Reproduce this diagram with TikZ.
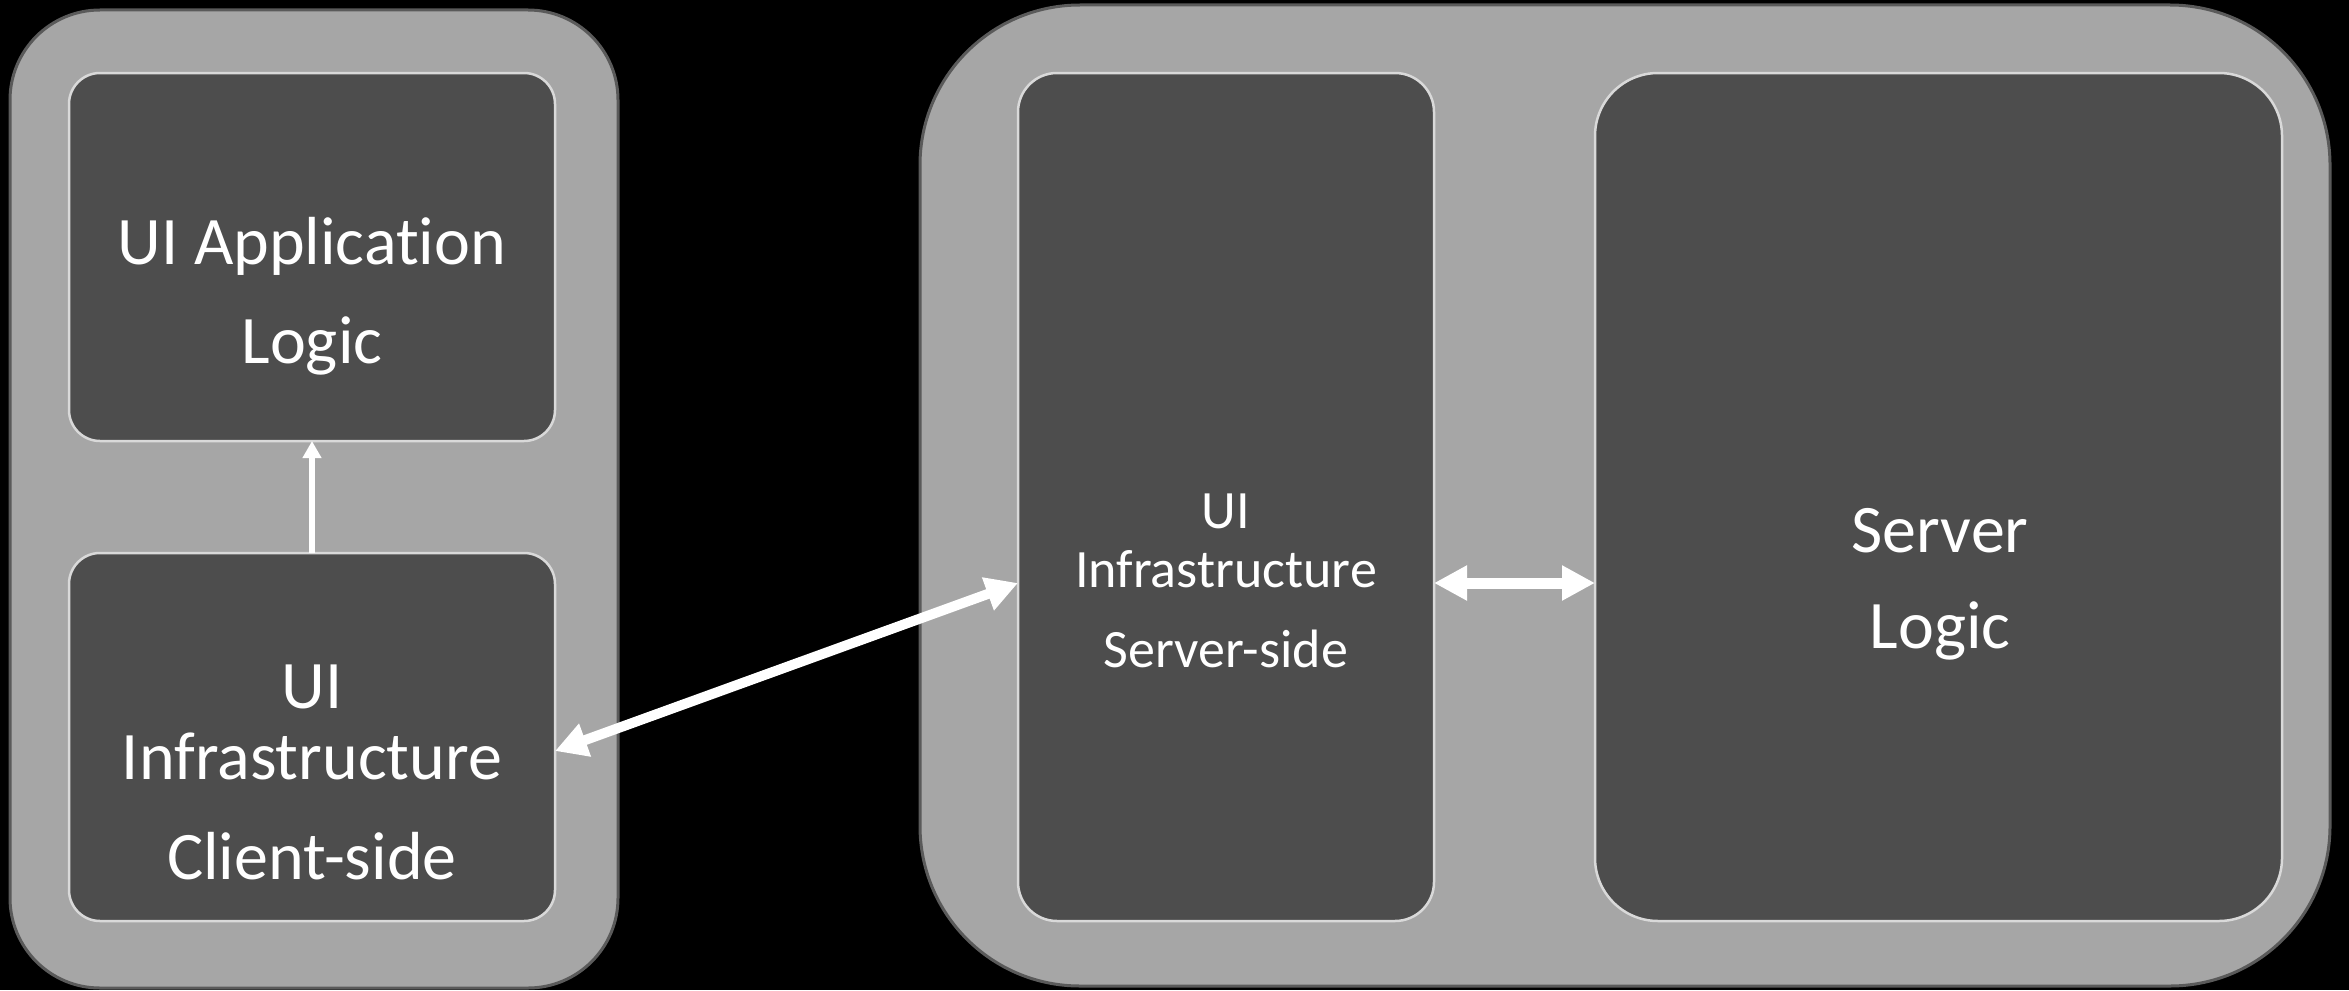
\documentclass[tikz,border=0pt]{standalone}
\usepackage{fontspec}
\setmainfont{Carlito}[Ligatures=NoCommon]
\usetikzlibrary{arrows.meta}

\definecolor{panelfill}{HTML}{A6A6A6}
\definecolor{panelline}{HTML}{5A5A5A}
\definecolor{blockfill}{HTML}{4D4D4D}
\definecolor{blockline}{HTML}{D9D9D9}

\begin{document}
\begin{tikzpicture}[x=1pt,y=-1pt,
  panel/.style={draw=panelline, fill=panelfill, line width=3pt,
    inner sep=0pt, outer sep=0pt},
  block/.style={draw=blockline, fill=blockfill, line width=2.5pt,
    inner sep=0pt, outer sep=0pt},
  bigtext/.style={anchor=base, text=white, inner sep=0pt,
    font=\fontsize{68}{68}\selectfont},
  smalltext/.style={anchor=base, text=white, inner sep=0pt,
    font=\fontsize{54}{54}\selectfont},
  link/.style={draw=white, line cap=butt}
]
% page background
\fill[black] (0,0) rectangle (2349,990);
\useasboundingbox (0,0) rectangle (2349,990);

% client container
\node[panel, rounded corners=90pt, minimum width=608pt, minimum height=978pt]
  (clientpanel) at (314,499) {};
\node[block, rounded corners=31pt, minimum width=486pt, minimum height=368pt]
  (app) at (312,257) {};
\node[block, rounded corners=31pt, minimum width=486pt, minimum height=368pt]
  (cli) at (312,737) {};

% server container
\node[panel, rounded corners=160pt, minimum width=1410pt, minimum height=981pt]
  (serverpanel) at (1625,495.5) {};
\node[block, rounded corners=39pt, minimum width=416pt, minimum height=848pt]
  (ssd) at (1226,497) {};
\node[block, rounded corners=63pt, minimum width=687pt, minimum height=848pt]
  (slg) at (1938.5,497) {};

% labels
\node[bigtext] (appA) at (312,264) {UI Application};
\node[bigtext] (appB) at (312,363) {Logic};

\node[bigtext] (cliA) at (312,708) {UI};
\node[bigtext] (cliB) at (312,779) {Infrastructure};
\node[bigtext] (cliC) at (312,879) {Client-side};

\node[smalltext] (ssdA) at (1226,528) {UI};
\node[smalltext] (ssdB) at (1226,587) {Infrastructure};
\node[smalltext] (ssdC) at (1226,667) {Server-side};

\node[bigtext] (slgA) at (1940,552) {Server};
\node[bigtext] (slgB) at (1940,648) {Logic};

% connectors
\draw[link, line width=6pt, -{Triangle[length=17pt,width=18pt]}]
  (cli.north) -- (app.south);
\draw[link, line width=10pt,
  {Triangle[length=32pt,width=33pt]}-{Triangle[length=32pt,width=33pt]}]
  (cli.east |- 0,751) -- (ssd.west |- 0,583);
\draw[link, line width=11pt,
  {Triangle[length=33pt,width=33pt]}-{Triangle[length=33pt,width=33pt]}]
  (ssd.east |- 0,583) -- (slg.west |- 0,583);
\end{tikzpicture}
\end{document}
